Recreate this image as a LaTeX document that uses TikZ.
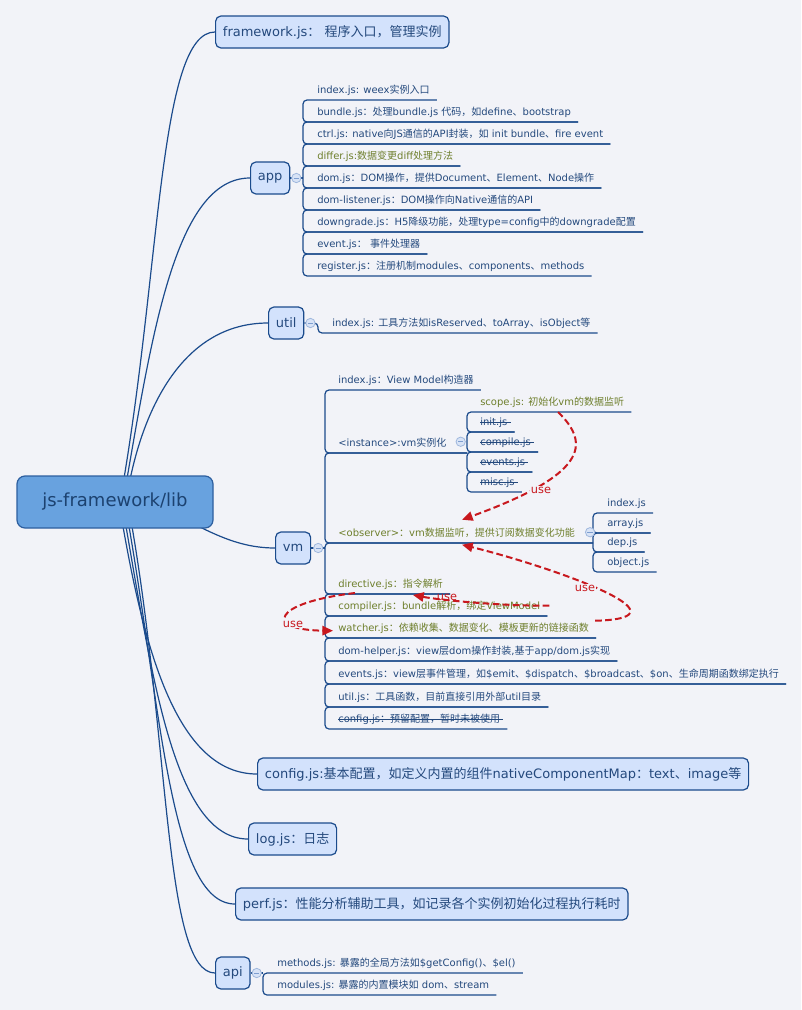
\documentclass[tikz,border=0pt]{standalone}
\usepackage{fontspec}
\setmainfont{DejaVu Sans}
\newfontfamily\mmcjk{Noto Sans CJK SC}
\newfontfamily\mmlat{DejaVu Sans}
\usetikzlibrary{calc,arrows.meta}
\XeTeXinterchartokenstate=1
\newXeTeXintercharclass\mmCJK
\newcount\mmi
\mmi="3000 \loop\ifnum\mmi<"3040 \XeTeXcharclass\mmi=\mmCJK \advance\mmi by 1 \repeat
\mmi="4E00 \loop\ifnum\mmi<"A000 \XeTeXcharclass\mmi=\mmCJK \advance\mmi by 1 \repeat
\mmi="FF00 \loop\ifnum\mmi<"FF61 \XeTeXcharclass\mmi=\mmCJK \advance\mmi by 1 \repeat
\XeTeXinterchartoks 0 \mmCJK = {\mmcjk}
\XeTeXinterchartoks 4095 \mmCJK = {\mmcjk}
\XeTeXinterchartoks \mmCJK 0 = {\mmlat}
\XeTeXinterchartoks \mmCJK 4095 = {\mmlat}

\definecolor{mmBg}{HTML}{F2F3F8}
\definecolor{mmLine}{HTML}{1B4B8C}
\definecolor{mmText}{HTML}{24497D}
\definecolor{mmOlive}{HTML}{6E7F2C}
\definecolor{mmTopic}{HTML}{D3E2FC}
\definecolor{mmRootF}{HTML}{68A2DF}
\definecolor{mmRootD}{HTML}{2D5F9F}
\definecolor{mmRootT}{HTML}{1C4270}
\definecolor{mmRed}{HTML}{C8181E}
\definecolor{mmBtnF}{HTML}{D8E3F6}
\definecolor{mmBtnD}{HTML}{9FB7DD}
\definecolor{mmBtnM}{HTML}{7E9ED0}

\pgfdeclarelayer{bg}
\pgfdeclarelayer{lines}
\pgfsetlayers{bg,lines,main}

\tikzset{
  conn/.style={draw=mmLine, line width=0.9pt},
  ln/.style={draw=mmLine, line width=0.9pt, rounded corners=3pt},
  topic/.style={draw=mmLine, fill=mmTopic, line width=0.9pt, rounded corners=4pt, anchor=west,
    minimum height=24pt, inner xsep=5.5pt, inner ysep=0pt, text=mmText, font=\fontsize{9.75}{12}\selectfont},
  rootnode/.style={draw=mmRootD, fill=mmRootF, line width=0.9pt, rounded corners=6pt,
    minimum width=147pt, minimum height=39pt, text=mmRootT, font=\fontsize{13.5}{16}\selectfont},
  leaf/.style={anchor=south west, inner sep=0pt, text depth=4.5pt, text=mmText, font=\fontsize{7.5}{9}\selectfont},
  olv/.style={text=mmOlive},
  strike/.style={draw=mmText, line width=0.75pt},
  btn/.style={circle, draw=mmBtnD, fill=mmBtnF, line width=0.6pt, minimum size=7pt, inner sep=0pt},
  usearrow/.style={draw=mmRed, line width=1.5pt, dash pattern=on 5pt off 2.5pt, -{Triangle[length=8pt,width=7pt]}},
  uselbl/.style={text=mmRed, font=\fontsize{8.5}{10}\selectfont, inner sep=0.5pt},
}

\newcommand{\mmleaf}[5][]{\node[leaf,#1] (#2) at (#3,#4) {#5}; \coordinate (#2e) at ($(#2.south east)+(7,0)$);}
\newcommand{\mmpair}[3]{\draw[ln] (#2e) -- (#2.south -| #1) -- (#3.south -| #1) -- (#3e);}
\newcommand{\mmstrike}[1]{\draw[strike] ($(#1.base west)+(0,-3.5)$) -- ($(#1.base east)+(3,-3.5)$);}
\newcommand{\mmbtn}[2]{\node[btn] (#1) at (#2) {}; \draw[draw=mmBtnM,line width=0.6pt] ($(#1.center)+(-2.6,0)$) -- ($(#1.center)+(2.6,0)$);}

\begin{document}
\begin{tikzpicture}[x=0.75pt,y=-0.75pt]
\begin{pgfonlayer}{bg}
\fill[mmBg] (0,0) rectangle (801,1010);
\end{pgfonlayer}
\useasboundingbox (0,0) rectangle (801,1010);

% root and main topics
\node[rootnode] (root) at (115,502) {js-framework/lib};
\node[topic] (fw) at (215,32) {framework.js： 程序入口，管理实例};
\node[topic] (app) at (250,178) {app};
\node[topic] (util) at (268,323) {util};
\node[topic] (vm) at (275,548) {vm};
\node[topic] (cfg) at (257,774) {config.js:基本配置，如定义内置的组件nativeComponentMap：text、image等};
\node[topic] (log) at (248,839) {log.js：日志};
\node[topic] (perf) at (235,904) {perf.js：性能分析辅助工具，如记录各个实例初始化过程执行耗时};
\node[topic] (api) at (215,973) {api};

\begin{pgfonlayer}{lines}
\coordinate (rA) at ($(root.center)+(7,-12)$);
\coordinate (rB) at ($(root.center)+(10,-12)$);
\coordinate (rC) at ($(root.center)+(13,-12)$);
\coordinate (rD) at ($(root.center)+(35,3)$);
\coordinate (rE) at ($(root.center)+(6,13)$);
\coordinate (rF) at ($(root.center)+(9,13)$);
\coordinate (rG) at ($(root.center)+(12,13)$);
\coordinate (rH) at ($(root.center)+(15,13)$);
\draw[conn] (rA) .. controls +(39,-225) and +(-56,0) .. (fw.west);
\draw[conn] (rB) .. controls +(27,-154) and +(-75,0) .. (app.west);
\draw[conn] (rC) .. controls +(15,-83) and +(-84,0) .. (util.west);
\draw[conn] (rD) .. controls +(45,15) and +(-50,0) .. (vm.west);
\draw[conn] (rE) .. controls +(22,128) and +(-82,0) .. (cfg.west);
\draw[conn] (rF) .. controls +(28,160) and +(-74,0) .. (log.west);
\draw[conn] (rG) .. controls +(34,192) and +(-65,0) .. (perf.west);
\draw[conn] (rH) .. controls +(40,225) and +(-51,0) .. (api.west);
\end{pgfonlayer}

% app group
\coordinate (appbar) at (303,178);
\mmleaf{a1}{317}{100}{index.js: weex实例入口}
\mmleaf{a2}{317}{122}{bundle.js：处理bundle.js 代码，如define、bootstrap}
\mmleaf{a3}{317}{144}{ctrl.js: native向JS通信的API封装，如 init bundle、fire event}
\mmleaf[olv]{a4}{317}{166}{differ.js:数据变更diff处理方法}
\mmleaf{a5}{317}{188}{dom.js：DOM操作，提供Document、Element、Node操作}
\mmleaf{a6}{317}{210}{dom-listener.js：DOM操作向Native通信的API}
\mmleaf{a7}{317}{232}{downgrade.js：H5降级功能，处理type=config中的downgrade配置}
\mmleaf{a8}{317}{254}{event.js： 事件处理器}
\mmleaf{a9}{317}{276}{register.js：注册机制modules、components、methods}
\draw[ln] (app.east) -- (app.east -| appbar);
\mmpair{appbar}{a1}{a2}
\mmpair{appbar}{a2}{a3}
\mmpair{appbar}{a3}{a4}
\mmpair{appbar}{a4}{a5}
\mmpair{appbar}{a5}{a6}
\mmpair{appbar}{a6}{a7}
\mmpair{appbar}{a7}{a8}
\mmpair{appbar}{a8}{a9}

% util group
\coordinate (utilbar) at (318,323);
\mmleaf{u1}{332}{333}{index.js: 工具方法如isReserved、toArray、isObject等}
\draw[ln] (util.east) -- (util.east -| utilbar) -- (u1.south -| utilbar) -- (u1e);

% vm group
\coordinate (vmbar) at (325,548);
\coordinate (instbar) at (467,452);
\coordinate (obsbar) at (593,543);
\mmleaf{v1}{338}{390}{index.js：View Model构造器}
\mmleaf{v2}{338}{453}{<instance>:vm实例化}
\coordinate (v2e) at (v2.south -| instbar);
\mmleaf[olv]{v3}{338}{543}{<observer>：vm数据监听，提供订阅数据变化功能}
\coordinate (v3e) at (v3.south -| obsbar);
\mmleaf[olv]{v4}{338}{594}{directive.js：指令解析}
\mmleaf[olv]{v5}{338}{616}{compiler.js：bundle解析，绑定ViewModel}
\mmleaf[olv]{v6}{338}{638}{watcher.js：依赖收集、数据变化、模板更新的链接函数}
\mmleaf{v7}{338}{661}{dom-helper.js：view层dom操作封装,基于app/dom.js实现}
\mmleaf{v8}{338}{684}{events.js：view层事件管理，如\$emit、\$dispatch、\$broadcast、\$on、生命周期函数绑定执行}
\mmleaf{v9}{338}{707}{util.js：工具函数，目前直接引用外部util目录}
\mmleaf{v10}{338}{729}{config.js：预留配置，暂时未被使用}
\draw[ln] (vm.east) -- (vm.east -| vmbar);
\mmpair{vmbar}{v1}{v2}
\mmpair{vmbar}{v2}{v3}
\mmpair{vmbar}{v3}{v4}
\mmpair{vmbar}{v4}{v5}
\mmpair{vmbar}{v5}{v6}
\mmpair{vmbar}{v6}{v7}
\mmpair{vmbar}{v7}{v8}
\mmpair{vmbar}{v8}{v9}
\mmpair{vmbar}{v9}{v10}
\mmstrike{v10}

% instance sub-group
\mmleaf[olv]{s1}{480}{412}{scope.js: 初始化vm的数据监听}
\mmleaf{s2}{480}{432}{init.js}
\mmleaf{s3}{480}{452}{compile.js}
\mmleaf{s4}{480}{472}{events.js}
\mmleaf{s5}{480}{492}{misc.js}
\mmpair{instbar}{s1}{s2}
\mmpair{instbar}{s2}{s3}
\mmpair{instbar}{s3}{s4}
\mmpair{instbar}{s4}{s5}
\mmstrike{s2}
\mmstrike{s3}
\mmstrike{s4}
\mmstrike{s5}

% observer sub-group
\mmleaf{o1}{607}{513}{index.js}
\mmleaf{o2}{607}{533}{array.js}
\mmleaf{o3}{607}{552}{dep.js}
\mmleaf{o4}{607}{572}{object.js}
\mmpair{obsbar}{o1}{o2}
\mmpair{obsbar}{o2}{o3}
\mmpair{obsbar}{o3}{o4}

% api group
\coordinate (apibar) at (263,973);
\mmleaf{m1}{277}{973}{methods.js: 暴露的全局方法如\$getConfig()、\$el()}
\mmleaf{m2}{277}{995}{modules.js: 暴露的内置模块如 dom、stream}
\draw[ln] (api.east) -- (api.east -| apibar);
\mmpair{apibar}{m1}{m2}

% collapse buttons
\mmbtn{appb}{$(app.east)+(6,0)$}
\mmbtn{utilb}{$(util.east)+(6,0)$}
\mmbtn{vmb}{$(vm.east)+(7,0)$}
\mmbtn{apib}{$(api.east)+(6,0)$}
\mmbtn{instb}{$(v2.base east)+(14,-5)$}
\mmbtn{obsb}{$(v3.base east)+(15,-4.5)$}

% "use" relations
\coordinate (k1s) at ($(s1.south west)+(78,0)$);
\coordinate (k1t) at ($(v3.base west)+(124,-17)$);
\coordinate (k2s) at ($(v6.base east)+(6,-11)$);
\coordinate (k2t) at ($(v3.base west)+(124,8)$);
\coordinate (k3s) at ($(v5.base east)+(9,-4)$);
\coordinate (k3t) at ($(v4.south west)+(75,1)$);
\coordinate (k4s) at ($(v4.south west)+(17,-1)$);
\coordinate (k4t) at ($(v6.base west)+(-5,-1)$);
\draw[usearrow] (k1s) .. controls (592,445) and (585,475) .. (k1t);
\draw[usearrow] (k2s) .. controls (700,618) and (545,565) .. (k2t);
\draw[usearrow] (k3s) .. controls (500,606) and (440,600) .. (k3t);
\draw[usearrow] (k4s) .. controls (270,603) and (265,630) .. (k4t);
\node[uselbl, fill=mmBg] (l1) at (541,490) {use};
\node[uselbl, fill=mmBg] (l2) at (585,588) {use};
\node[uselbl] (l3) at (447,597) {use};
\node[uselbl, fill=mmBg] (l4) at (293,624) {use};
\end{tikzpicture}
\end{document}
